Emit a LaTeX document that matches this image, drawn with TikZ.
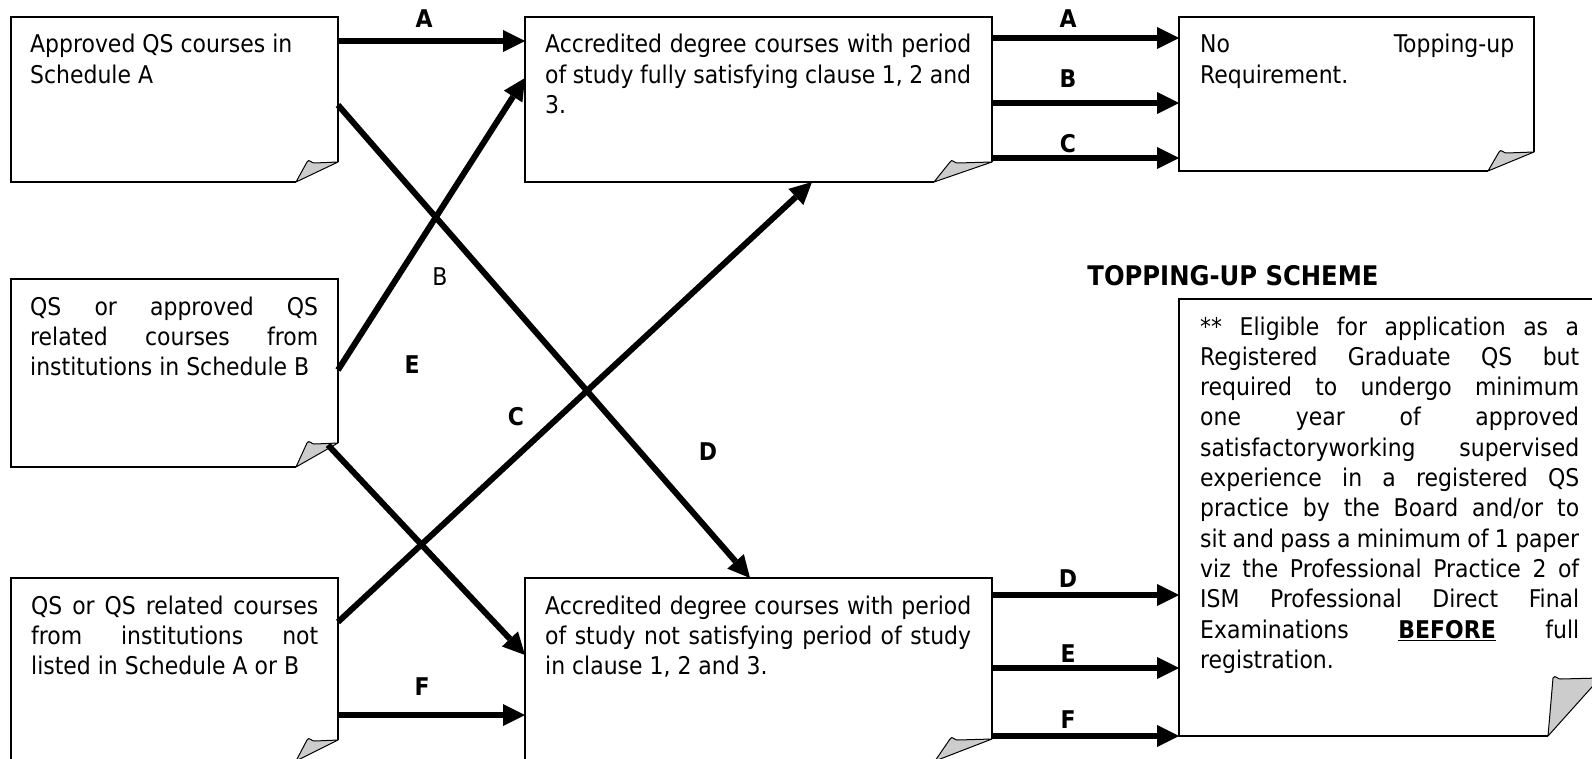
\documentclass[tikz,border=0pt]{standalone}
\usepackage{fontspec}
\setmainfont{DejaVu Sans Condensed}
\usetikzlibrary{arrows.meta,calc}
\newcommand\mybodyfont{\fontsize{24.4}{30.3}\selectfont}
\newcommand\mytitlefont{\fontsize{27}{32}\selectfont}
\tikzset{
  boxn/.style={anchor=north west, inner sep=0pt, outer sep=0pt, draw=none},
  boxline/.style={line width=1.5pt, line join=miter},
  flap/.style={fill=black!20, draw=black, line width=1pt, line join=round},
  arr/.style={line width=6pt, -{Triangle[length=22pt,width=22pt,line width=0pt]}},
  txt/.style={anchor=base west, inner sep=0pt, font=\mybodyfont},
  lbl/.style={anchor=base, inner sep=0pt, font=\mybodyfont\bfseries},
  lblr/.style={anchor=base, inner sep=0pt, font=\mybodyfont},
  ttl/.style={anchor=base, inner sep=0pt, font=\mytitlefont\bfseries},
}
\newcommand\foldbox[4]{%
  \coordinate (#1-fb) at ($(#1.south east)+(-#2,0)$);
  \coordinate (#1-fr) at ($(#1.south east)+(0,-#3)$);
  \coordinate (#1-fp) at ($(#1.south east)+(-#2+#4,-#3)$);
  \draw[boxline] (#1-fb) -- (#1.south west) -- (#1.north west) -- (#1.north east) -- (#1-fr);
  \filldraw[flap] (#1-fb) -- (#1-fp) .. controls +(2,-4) and +(-3,1) .. ($(#1-fp)+(8,1)$) -- (#1-fr) -- cycle;
}
\begin{document}
\begin{tikzpicture}[x=1pt,y=-1pt]
\useasboundingbox (0,0) rectangle (1592,759);
\clip (0,0) rectangle (1592,759);
\fill[white] (0,0) rectangle (1592,759);

% boxes
\node[boxn, minimum width=327pt, minimum height=165pt] (b1) at (11,17) {};
\node[boxn, minimum width=467pt, minimum height=165pt] (b2) at (525,17) {};
\node[boxn, minimum width=355pt, minimum height=154pt] (b3) at (1179,17) {};
\node[boxn, minimum width=327pt, minimum height=188pt] (b4) at (11,279) {};
\node[boxn, minimum width=327pt, minimum height=183pt] (b5) at (11,578) {};
\node[boxn, minimum width=467pt, minimum height=183pt] (b6) at (525,578) {};
\node[boxn, minimum width=421pt, minimum height=437pt] (b7) at (1179,299) {};

\foldbox{b1}{42}{20}{11}
\foldbox{b2}{58}{20}{16}
\foldbox{b3}{46}{19}{11}
\foldbox{b4}{42}{24}{11}
\foldbox{b5}{42}{21}{11}
\foldbox{b6}{57}{22}{15}
\foldbox{b7}{52}{58}{5}

% texts
\node[txt] (t1) at (30,53) {\parbox[t]{288pt}{Approved QS courses in\\Schedule A}};
\node[txt] (t2) at (545,53) {\parbox[t]{426pt}{Accredited degree courses with period\linebreak of study fully satisfying clause 1, 2 and\linebreak 3.}};
\node[txt] (t3) at (1200,53) {\parbox[t]{314pt}{No Topping-up\linebreak Requirement.}};
\node[txt] (t4) at (30,315) {\parbox[t]{288pt}{QS or approved QS\linebreak related courses from\linebreak institutions in Schedule B}};
\node[txt] (t5) at (31,614) {\parbox[t]{287pt}{QS or QS related courses\linebreak from institutions not\linebreak listed in Schedule A or B}};
\node[txt] (t6) at (545,614) {\parbox[t]{426pt}{Accredited degree courses with period\linebreak of study not satisfying period of study\linebreak in clause 1, 2 and 3.}};
\node[txt] (t7) at (1200,335) {\parbox[t]{379pt}{** Eligible for application as a\linebreak Registered Graduate QS but\linebreak required to undergo minimum\linebreak one year of approved\linebreak satisfactoryworking supervised\linebreak experience in a registered QS\linebreak practice by the Board and/or to\linebreak sit and pass a minimum of 1 paper\linebreak viz the Professional Practice 2 of\linebreak ISM Professional Direct Final\linebreak Examinations \underline{\textbf{BEFORE}} full\linebreak registration.}};

\node[ttl] (title) at (1233,285) {TOPPING-UP SCHEME};

% connectors
\draw[arr] ($(b1.north east)+(0,24)$) -- ($(b2.north west)+(0,24)$);
\draw[arr] ($(b1.north east)+(0,88)$) -- ($(b6.north west)+(225,0)$);
\draw[arr] ($(b4.north east)+(0,91)$) -- ($(b2.north west)+(0,61)$);
\draw[arr] ($(b4.south east)+(-10,-22)$) -- ($(b6.north west)+(0,77)$);
\draw[arr] ($(b5.north east)+(0,44)$) -- ($(b2.south west)+(287,0)$);
\draw[arr] ($(b5.north east)+(0,137)$) -- ($(b6.north west)+(0,137)$);
\draw[arr] ($(b2.north east)+(0,21)$) -- ($(b3.north west)+(0,21)$);
\draw[arr] ($(b2.north east)+(0,86)$) -- ($(b3.north west)+(0,86)$);
\draw[arr] ($(b2.north east)+(0,141)$) -- ($(b3.north west)+(0,141)$);
\draw[arr] ($(b6.north east)+(0,17)$) -- ($(b7.north west)+(0,296)$);
\draw[arr] ($(b6.north east)+(0,90)$) -- ($(b7.north west)+(0,369)$);
\draw[arr] ($(b6.north east)+(0,158)$) -- ($(b7.north west)+(0,437)$);

% labels
\node[lbl] (lA1) at (424,28) {A};
\node[lbl] (lA2) at (1068,28) {A};
\node[lbl] (lB2) at (1068,88) {B};
\node[lbl] (lC2) at (1068,153) {C};
\node[lbl] (lD2) at (1068,587) {D};
\node[lbl] (lE2) at (1068,662) {E};
\node[lbl] (lF2) at (1068,728) {F};
\node[lbl] (lF1) at (422,695) {F};
\node[lblr] (lBm) at (440,285) {B};
\node[lbl] (lEm) at (412,373) {E};
\node[lbl] (lCm) at (516,425) {C};
\node[lbl] (lDm) at (708,460) {D};
\end{tikzpicture}
\end{document}
